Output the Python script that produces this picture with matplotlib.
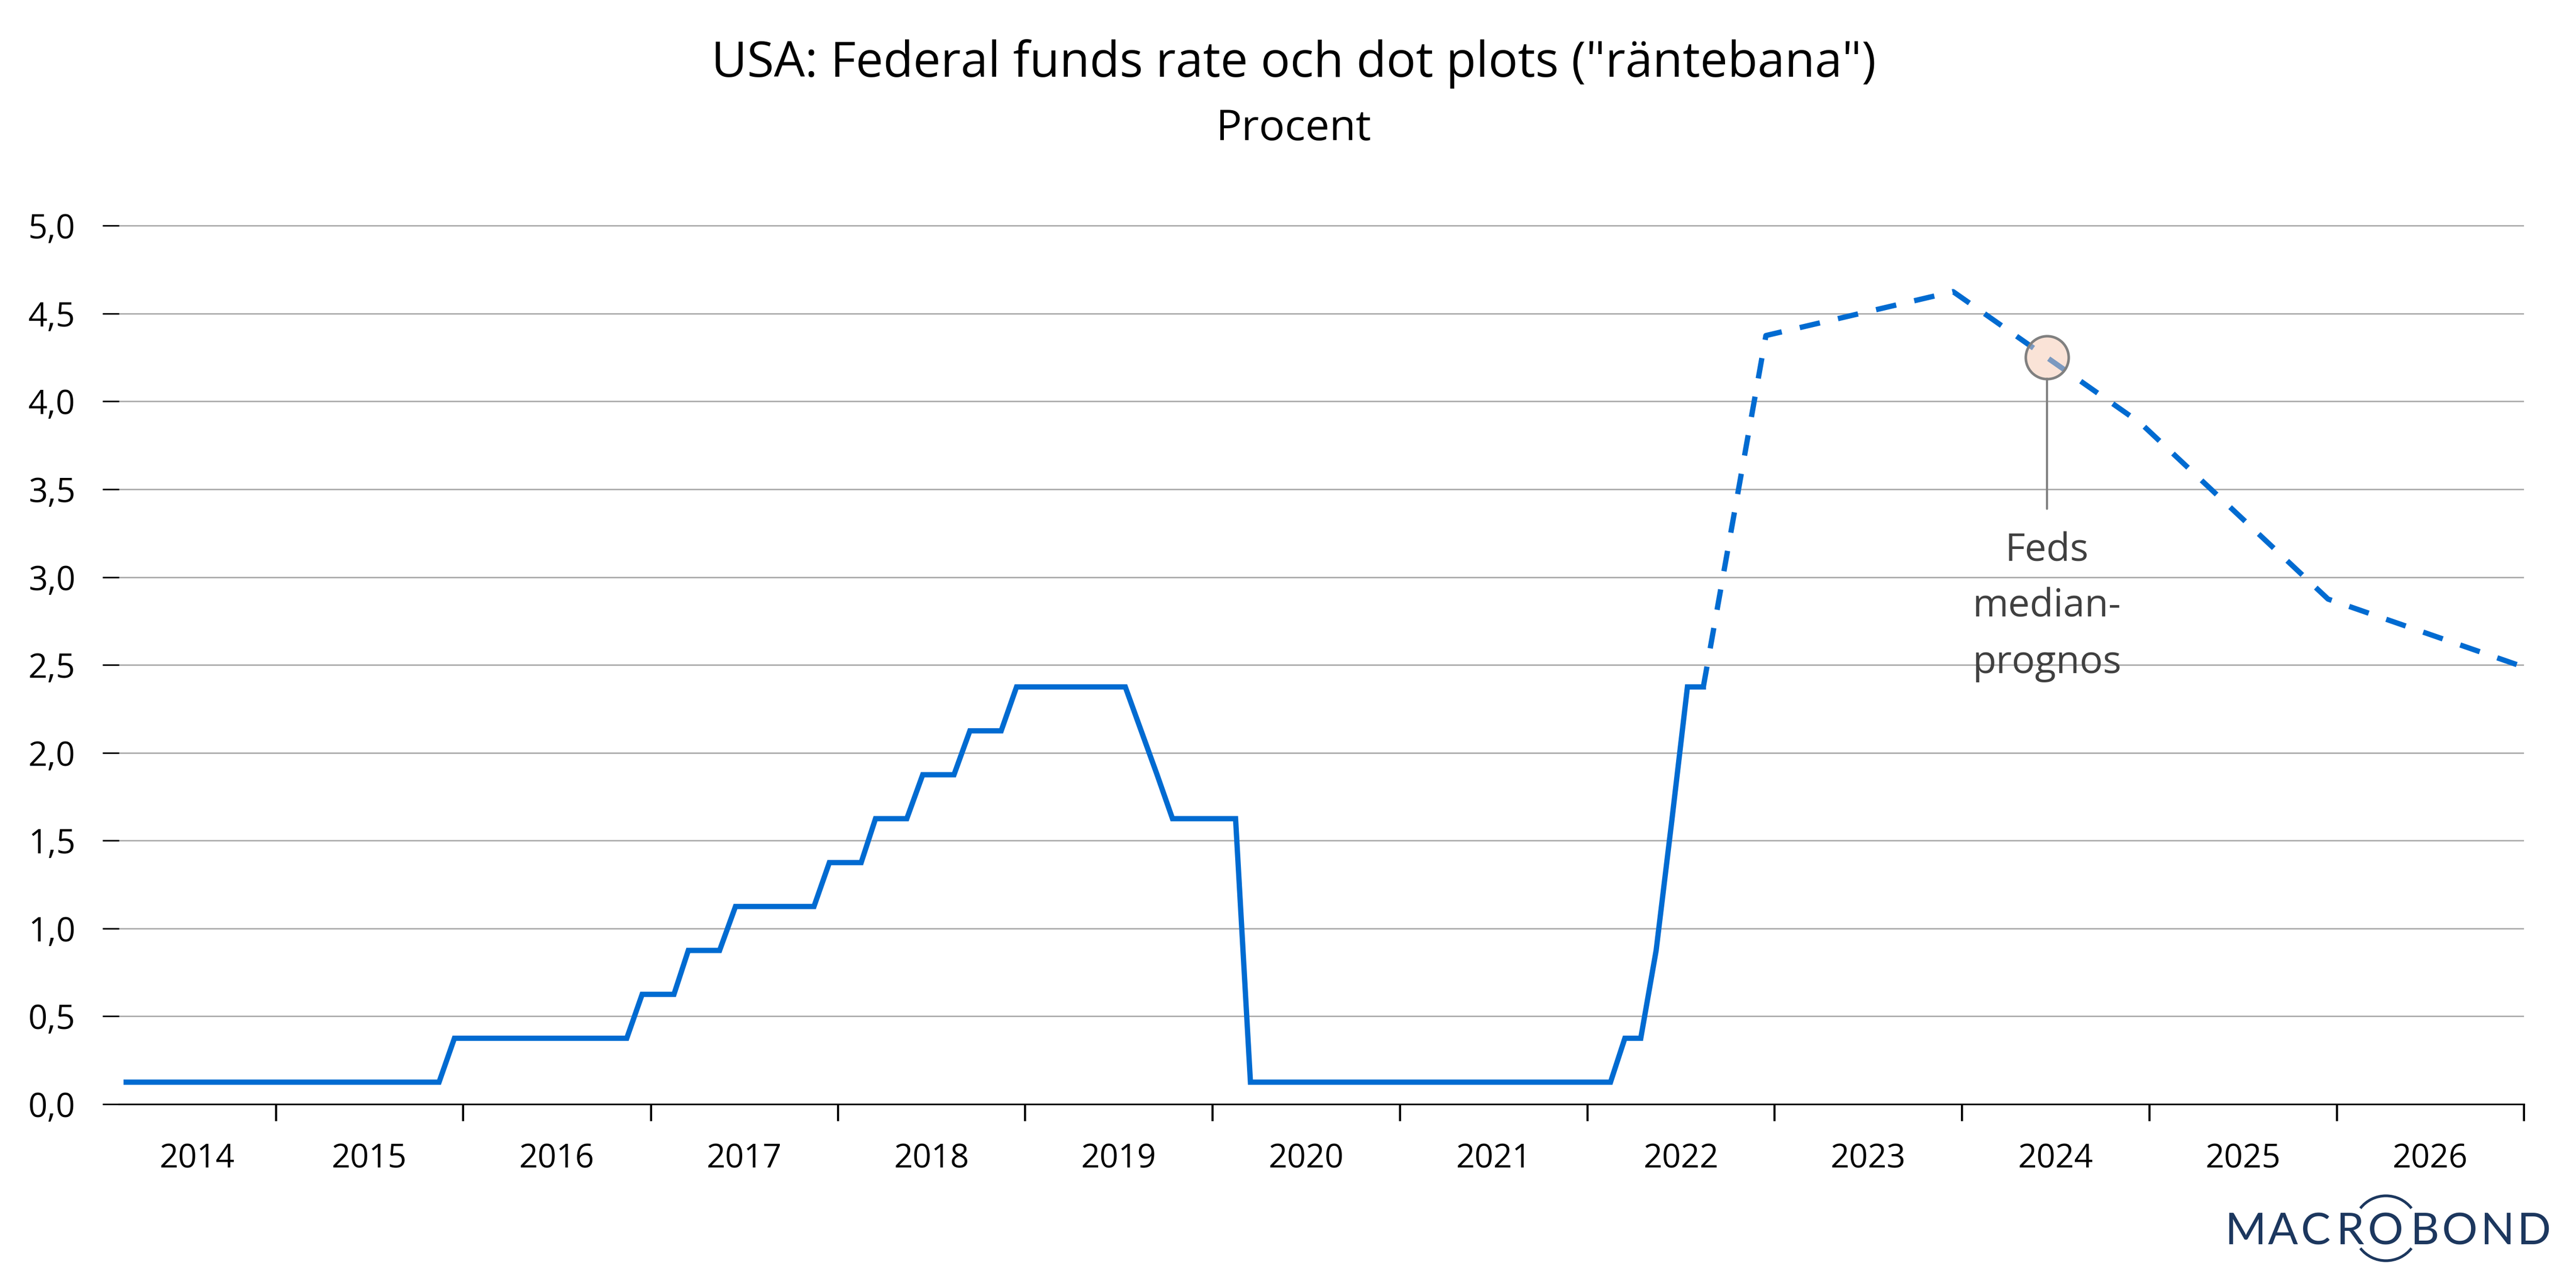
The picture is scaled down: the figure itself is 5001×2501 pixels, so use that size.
import matplotlib
matplotlib.use("Agg")
import matplotlib.pyplot as plt
import matplotlib.dates as mdates
import matplotlib.transforms as mtransforms
from matplotlib.colors import to_rgba
from matplotlib.patches import Arc
from matplotlib.ticker import FixedLocator, FuncFormatter, NullFormatter
import pandas as pd

FONT = ["Open Sans", "DejaVu Sans"]
BLUE = "#006BD1"
GRID = "#A6A6A6"
NAVY = "#1C375E"

plt.rcParams["font.family"] = FONT

# Fed funds target (midpoint of range), monthly, Mar 2014 - Aug 2022
months = pd.period_range("2014-03", "2022-08", freq="M")
rate = [
    # 2014 (Mar-Dec)
    0.125, 0.125, 0.125, 0.125, 0.125, 0.125, 0.125, 0.125, 0.125, 0.125,
    # 2015
    0.125, 0.125, 0.125, 0.125, 0.125, 0.125, 0.125, 0.125, 0.125, 0.125, 0.125, 0.375,
    # 2016
    0.375, 0.375, 0.375, 0.375, 0.375, 0.375, 0.375, 0.375, 0.375, 0.375, 0.375, 0.625,
    # 2017
    0.625, 0.625, 0.875, 0.875, 0.875, 1.125, 1.125, 1.125, 1.125, 1.125, 1.125, 1.375,
    # 2018
    1.375, 1.375, 1.625, 1.625, 1.625, 1.875, 1.875, 1.875, 2.125, 2.125, 2.125, 2.375,
    # 2019
    2.375, 2.375, 2.375, 2.375, 2.375, 2.375, 2.375, 2.125, 1.875, 1.625, 1.625, 1.625,
    # 2020
    1.625, 1.625, 0.125, 0.125, 0.125, 0.125, 0.125, 0.125, 0.125, 0.125, 0.125, 0.125,
    # 2021
    0.125, 0.125, 0.125, 0.125, 0.125, 0.125, 0.125, 0.125, 0.125, 0.125, 0.125, 0.125,
    # 2022 (Jan-Aug)
    0.125, 0.125, 0.375, 0.375, 0.875, 1.625, 2.375, 2.375,
]

# Fed median forecast (dot plot), starting from last outcome
proj_dates = ["2022-08-15", "2022-12-15", "2023-12-15", "2024-12-15", "2025-12-15", "2026-12-20"]
proj_values = [2.375, 4.375, 4.625, 3.875, 2.875, 2.5]

year_labels = [str(y) for y in range(2014, 2027)]
y_ticks = [0.0, 0.5, 1.0, 1.5, 2.0, 2.5, 3.0, 3.5, 4.0, 4.5, 5.0]

note_date = "2024-06-15"
note_value = 4.25
note_lines = ["Feds", "median-", "prognos"]

title = 'USA: Federal funds rate och dot plots ("räntebana")'
subtitle = "Procent"

W, H = 5001, 2501
fig = plt.figure(figsize=(W / 100, H / 100), dpi=100)
fig.patch.set_facecolor("white")

ax_left, ax_right, ax_top, ax_bottom = 231, 4900, 437, 2144
ax = fig.add_axes([ax_left / W, (H - ax_bottom) / H,
                   (ax_right - ax_left) / W, (ax_bottom - ax_top) / H])

dates = months.to_timestamp() + pd.Timedelta(days=14)
ax.plot(dates, rate, color=BLUE, lw=7.4, solid_joinstyle="miter", zorder=3)
ax.plot(pd.to_datetime(proj_dates), proj_values, color=BLUE, lw=7.4,
        linestyle=(0, (3.9, 3.5)), zorder=3)

x0, x1 = pd.Timestamp("2014-03-01"), pd.Timestamp("2027-01-01")
ax.set_xlim(x0, x1)
ax.set_ylim(0, 5.004)

for side in ("top", "right", "left"):
    ax.spines[side].set_visible(False)
ax.spines["bottom"].set_color("black")
ax.spines["bottom"].set_linewidth(2.3)
ax.spines["bottom"].set_zorder(4)

ax.yaxis.set_major_locator(FixedLocator(y_ticks))
ax.yaxis.set_major_formatter(FuncFormatter(lambda v, _: f"{v:.1f}".replace(".", ",")))
ax.tick_params(axis="y", length=23, width=2.2, color="black", pad=38,
               labelsize=47, labelcolor="black")
ax.grid(axis="y", color=GRID, lw=1.9, zorder=0)
ax.set_axisbelow(True)

year_starts = [pd.Timestamp(f"{y}-01-01") for y in range(2015, 2028)]
ax.xaxis.set_major_locator(FixedLocator(mdates.date2num(year_starts)))
ax.xaxis.set_major_formatter(NullFormatter())
ax.tick_params(axis="x", length=24, width=3.0, color="black")

# year labels centred on the visible part of each year
trans = mtransforms.blended_transform_factory(ax.transData, ax.transAxes)
label_y = -(2268 - ax_bottom) / (ax_bottom - ax_top)
for lab in year_labels:
    a = max(pd.Timestamp(f"{lab}-01-01"), x0)
    b = min(pd.Timestamp(f"{int(lab) + 1}-01-01"), x1)
    mid = a + (b - a) / 2
    ax.text(mdates.date2num(mid), label_y, lab, transform=trans,
            ha="center", va="baseline", fontsize=46, color="black")

# annotation for the forecast
nd = pd.Timestamp(note_date)
ax.plot([nd, nd], [4.13, 3.39], color="#808080", lw=2.9,
        solid_capstyle="round", zorder=4)
ax.plot([nd], [note_value], marker="o", ms=60,
        mfc=to_rgba("#F6C8B0", 0.5), mec="#808080", mew=3.6, zorder=5)
for line, yb in zip(note_lines, [3.09, 2.775, 2.455]):
    ax.text(nd, yb, line, ha="center", va="baseline", fontsize=54,
            color="#404040", zorder=6)

fig.text(2512 / W, 1 - 149 / H, title, ha="center", va="baseline",
         fontsize=68.5, color="black")
fig.text(2512 / W, 1 - 272 / H, subtitle, ha="center", va="baseline",
         fontsize=60, color="black")

# logo
lx0, lx1, ly0, ly1 = 4300, 5000, 2300, 2470
lax = fig.add_axes([lx0 / W, (H - ly1) / H, (lx1 - lx0) / W, (ly1 - ly0) / H])
lax.set_xlim(lx0, lx1)
lax.set_ylim(H - ly1, H - ly0)
lax.axis("off")
logo_cy = H - 2385
for ch, cx in zip("MACROBOND", [4359, 4432, 4496, 4562, 4631, 4707, 4775, 4848, 4919]):
    lax.text(cx, logo_cy, ch, ha="center", va="center_baseline", fontsize=62,
             family=["Lato", "DejaVu Sans"], color=NAVY)
for t1, t2 in ((38, 142), (218, 322)):
    lax.add_patch(Arc((4632, logo_cy), 126, 126, theta1=t1, theta2=t2,
                      color=NAVY, lw=3.8))

fig.savefig("out.png", dpi=100)
